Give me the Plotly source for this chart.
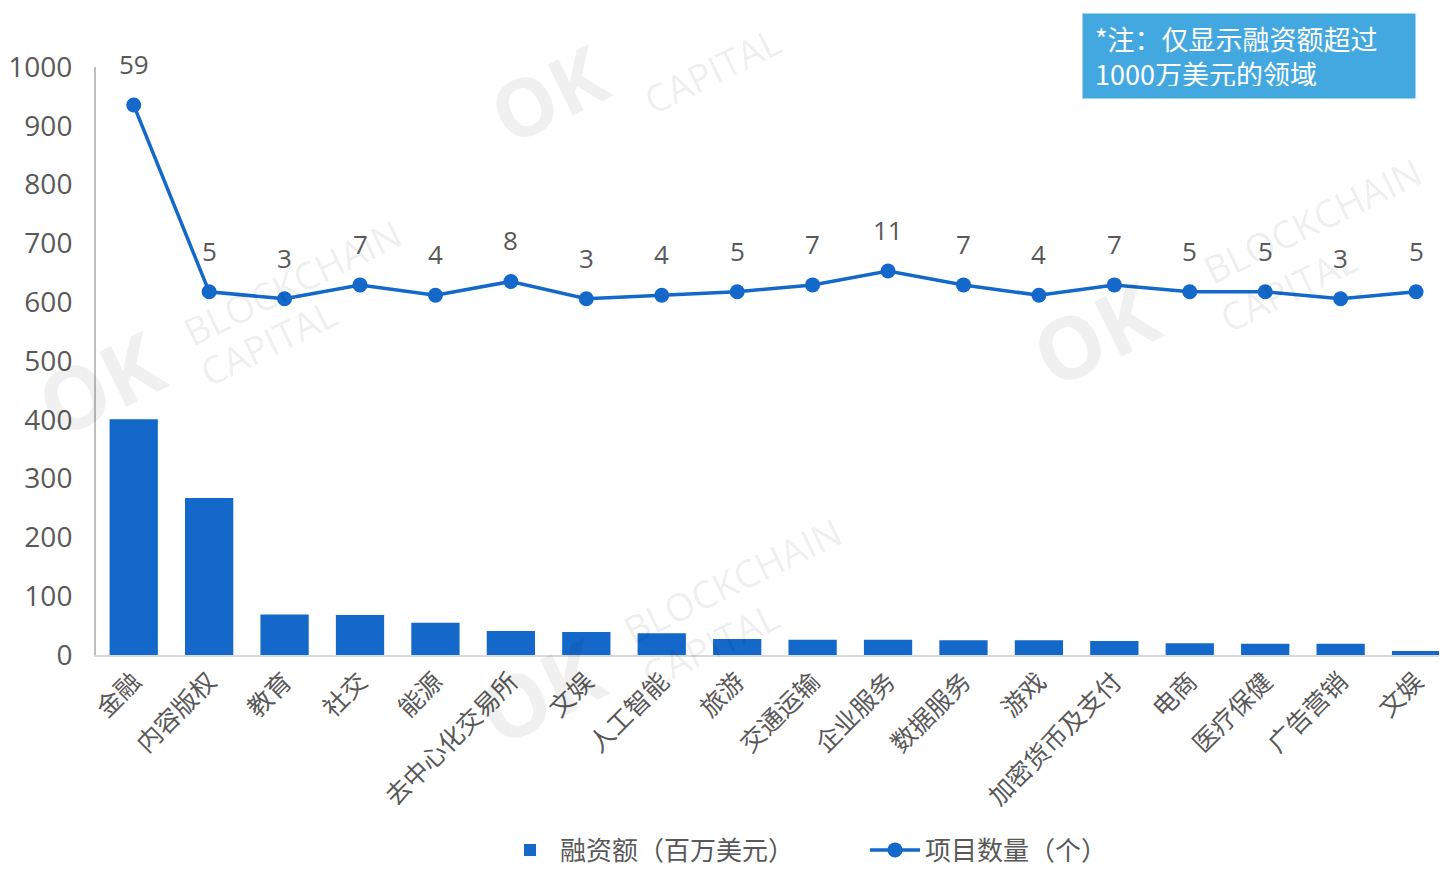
import plotly.graph_objects as go

categories = ["金融", "内容版权", "教育", "社交", "能源", "去中心化交易所", "文娱", "人工智能",
              "旅游", "交通运输", "企业服务", "数据服务", "游戏", "加密货币及支付", "电商",
              "医疗保健", "广告营销", "文娱"]
funding = [401, 267, 69, 68, 55, 41, 39, 37, 27, 26, 26, 25, 25, 24, 20, 19, 19, 7]
counts = [59, 5, 3, 7, 4, 8, 3, 4, 5, 7, 11, 7, 4, 7, 5, 5, 3, 5]
y_ticks = [0, 100, 200, 300, 400, 500, 600, 700, 800, 900, 1000]

bar_name = "融资额（百万美元）"
line_name = "项目数量（个）"
note_text = "*注：仅显示融资额超过<br>1000万美元的领域"

FONT = "Noto Sans CJK SC, Noto Sans, sans-serif"
NUMFONT = "Open Sans, Noto Sans CJK SC, sans-serif"
GREY = "#595959"
BLUE = "#1368C9"

# page has an 8px body margin; work in page pixels and convert
OFF = 8
W, H = 1447 - OFF, 869 - OFF
L, R, T, B = 96, 1447, 67, 655  # plot area in page pixels


def px(xp, yp):
    return (xp - L) / (R - L), (B - yp) / (B - T)


x = list(range(len(categories)))

fig = go.Figure()
fig.add_trace(go.Bar(x=x, y=funding, name=bar_name, marker_color=BLUE, width=0.64,
                     marker_line_width=0))
fig.add_trace(go.Scatter(x=x, y=counts, name=line_name, yaxis="y2", mode="lines+markers",
                         line=dict(color=BLUE, width=3.5),
                         marker=dict(color=BLUE, size=15)))

annotations = []

# faint watermarks
ok_col = "rgba(0,0,0,0.06)"
txt_col = "rgba(0,0,0,0.08)"
wm_items = [
    ((100, 383), "<b>OK</b>", 86, ok_col), ((292, 282), "BLOCKCHAIN", 38, txt_col),
    ((268, 342), "CAPITAL", 38, txt_col),
    ((540, 690), "<b>OK</b>", 86, ok_col), ((732, 580), "BLOCKCHAIN", 38, txt_col),
    ((710, 645), "CAPITAL", 38, txt_col),
    ((1095, 333), "<b>OK</b>", 86, ok_col), ((1312, 220), "BLOCKCHAIN", 38, txt_col),
    ((1288, 288), "CAPITAL", 38, txt_col),
    ((548, 92), "<b>OK</b>", 80, ok_col), ((712, 70), "CAPITAL", 38, txt_col),
]
for (cx, cy), text, size, col in wm_items:
    ax, ay = px(cx, cy)
    annotations.append(dict(x=ax, y=ay, xref="paper", yref="paper", showarrow=False,
                            xanchor="center", yanchor="middle", text=text, textangle=-26,
                            font=dict(size=size, color=col, family=NUMFONT)))

for i, c in enumerate(counts):
    annotations.append(dict(x=i, y=c, xref="x", yref="y2", text=str(c), showarrow=False,
                            yshift=41, font=dict(size=26, color=GREY, family=NUMFONT)))

nx, ny = px(1082, 13)
annotations.append(dict(x=nx, y=ny, xref="paper", yref="paper",
                        xanchor="left", yanchor="top", showarrow=False, align="left",
                        text=note_text, width=308, height=60, bgcolor="#44A8E0", borderpad=12,
                        font=dict(size=27, color="white", family=FONT)))

lx, _ = px(500, 869)
leg_y = (H - (850 - OFF)) / H  # container fraction for legend centre

fig.update_layout(
    width=W, height=H,
    margin=dict(l=L - OFF, r=W - (R - OFF), t=T - OFF, b=H - (B - OFF)),
    plot_bgcolor="white", paper_bgcolor="white",
    font=dict(family=FONT, color=GREY),
    xaxis=dict(tickmode="array", tickvals=x, ticktext=categories, tickangle=-45,
               range=[-0.5, 17.41], showline=True, linecolor="#D9D9D9", linewidth=2,
               ticks="", tickfont=dict(size=25, color=GREY, family=FONT), showgrid=False,
               automargin=False),
    yaxis=dict(range=[0, 1000], tickvals=y_ticks, showline=True, linecolor="#BFBFBF",
               linewidth=2, showgrid=False, zeroline=False, ticks="",
               ticklabelstandoff=16, automargin=False,
               tickfont=dict(size=28, color=GREY, family=NUMFONT)),
    yaxis2=dict(range=[-100, 70], overlaying="y", visible=False),
    legend=dict(orientation="h", x=lx, xanchor="left", y=leg_y, yref="container",
                yanchor="middle",
                font=dict(size=26, color=GREY, family=FONT), itemwidth=50,
                entrywidth=300, entrywidthmode="pixels",
                traceorder="normal"),
    annotations=annotations,
    showlegend=True,
)

fig.write_html("out.html")
